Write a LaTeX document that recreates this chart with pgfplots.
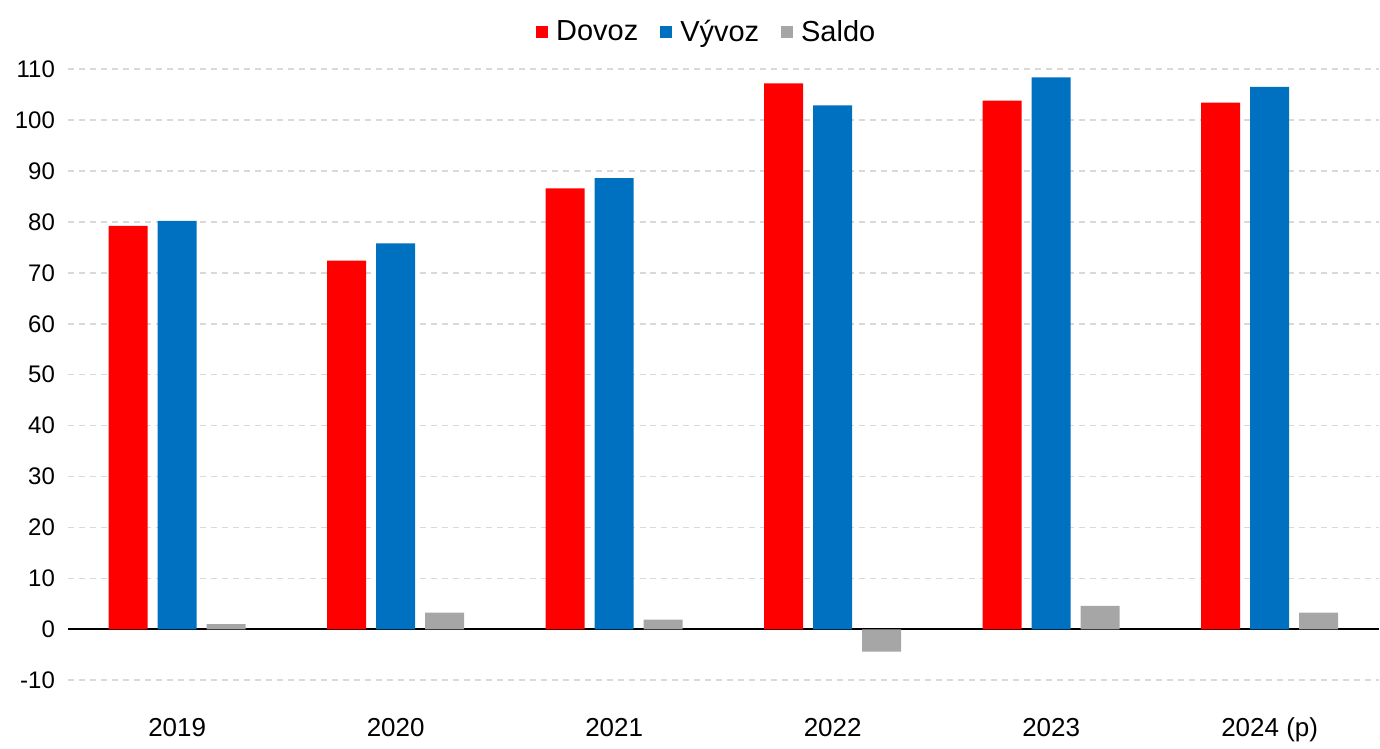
\documentclass[border=0pt]{standalone}
\usepackage{pgfplots}
\pgfplotsset{compat=1.18}
\usepackage{fontspec}
\setmainfont{Liberation Sans}
\definecolor{cred}{HTML}{FF0000}
\definecolor{cblue}{HTML}{0070C0}
\definecolor{cgray}{HTML}{A6A6A6}
\definecolor{cgrid}{HTML}{D9D9D9}
\begin{document}
\begin{tikzpicture}
\begin{axis}[
  name=ax,
  scale only axis,
  width=656pt, height=316pt,
  xmin=-0.5, xmax=5.5,
  ymin=-12, ymax=112,
  ybar=5pt, bar width=19.5pt,
  axis line style={draw=none},
  tick style={draw=none},
  xtick={0,1,2,3,4,5},
  xticklabels={2019,2020,2021,2022,2023,2024 (p)},
  xticklabel style={font=\fontsize{13}{14}\selectfont, yshift=-6pt},
  ytick={-10,0,10,20,30,40,50,60,70,80,90,100,110},
  yticklabel style={font=\fontsize{12}{13}\selectfont, xshift=-3pt},
  /pgf/number format/assume math mode=true,
  ymajorgrids,
  grid style={cgrid, line width=0.8pt, dash pattern=on 3pt off 2.5pt},
  legend style={draw=none, at={(0.488,1)}, anchor=south, yshift=3pt,
    font=\fontsize{14.5}{16}\selectfont, legend columns=3,
    /tikz/every even column/.append style={column sep=9pt}},
  legend image code/.code={\fill[#1] (1pt,-3pt) rectangle (7pt,3pt);
    \path (9pt,0pt);},
  extra y ticks={0},
  extra y tick labels={},
  extra y tick style={grid style={black, solid, line width=1.1pt}},
]
\addplot[fill=cred, draw=none] coordinates {(0,79.2) (1,72.4) (2,86.6) (3,107.2) (4,103.8) (5,103.4)};
\addplot[fill=cblue, draw=none] coordinates {(0,80.2) (1,75.8) (2,88.6) (3,102.9) (4,108.4) (5,106.5)};
\addplot[fill=cgray, draw=none] coordinates {(0,1.0) (1,3.3) (2,1.9) (3,-4.4) (4,4.6) (5,3.3)};
\legend{Dovoz, Vývoz, Saldo}
\end{axis}
\path (ax.south west) ++(-34pt,-25.5pt) rectangle ++(690pt,371pt);
\end{tikzpicture}
\end{document}
